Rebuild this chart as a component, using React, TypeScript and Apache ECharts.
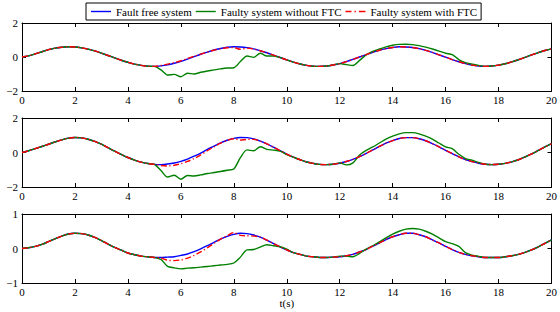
import React, { useEffect, useRef } from "react";
import * as echarts from "echarts";

// time samples (s)
const T = [
  0, 0.25, 0.5, 0.75, 1, 1.25, 1.5, 1.75, 2, 2.25, 2.5, 2.75, 3, 3.25, 3.5, 3.75, 4, 4.25, 4.5, 4.75,
  5, 5.25, 5.5, 5.75, 6, 6.25, 6.5, 6.75, 7, 7.25, 7.5, 7.75, 8, 8.25, 8.5, 8.75, 9, 9.25, 9.5, 9.75,
  10, 10.25, 10.5, 10.75, 11, 11.25, 11.5, 11.75, 12, 12.25, 12.5, 12.75, 13, 13.25, 13.5, 13.75, 14, 14.25, 14.5, 14.75,
  15, 15.25, 15.5, 15.75, 16, 16.25, 16.5, 16.75, 17, 17.25, 17.5, 17.75, 18, 18.25, 18.5, 18.75, 19, 19.25, 19.5, 19.75, 20,
];

// Panel 1
const free1 = [0, 0.07, 0.18, 0.31, 0.43, 0.52, 0.57, 0.60, 0.59, 0.54, 0.46, 0.36, 0.23, 0.09, -0.05, -0.19, -0.31, -0.42, -0.49, -0.54, -0.55, -0.52, -0.46, -0.37, -0.26, -0.12, 0.02, 0.16, 0.29, 0.41, 0.50, 0.57, 0.60, 0.59, 0.55, 0.48, 0.37, 0.25, 0.11, -0.03, -0.17, -0.30, -0.41, -0.49, -0.54, -0.55, -0.53, -0.47, -0.39, -0.27, -0.14, 0.00, 0.14, 0.28, 0.40, 0.49, 0.56, 0.60, 0.59, 0.56, 0.49, 0.39, 0.27, 0.13, -0.01, -0.15, -0.28, -0.39, -0.48, -0.53, -0.55, -0.53, -0.48, -0.40, -0.29, -0.16, -0.02, 0.12, 0.26, 0.38, 0.48];
const noFtc1 = [0, 0.07, 0.18, 0.31, 0.43, 0.52, 0.57, 0.60, 0.59, 0.54, 0.46, 0.36, 0.23, 0.09, -0.05, -0.19, -0.31, -0.42, -0.49, -0.54, -0.55, -0.76, -1.06, -1.02, -1.16, -0.96, -1.0, -0.9, -0.82, -0.76, -0.70, -0.65, -0.63, -0.27, 0.06, -0.02, 0.22, 0.06, 0.06, -0.04, -0.17, -0.30, -0.41, -0.49, -0.54, -0.55, -0.53, -0.47, -0.39, -0.45, -0.50, -0.2, 0.12, 0.33, 0.47, 0.60, 0.69, 0.74, 0.75, 0.73, 0.67, 0.58, 0.47, 0.35, 0.22, 0.14, -0.15, -0.33, -0.42, -0.50, -0.55, -0.53, -0.48, -0.40, -0.29, -0.16, -0.02, 0.12, 0.26, 0.38, 0.48];
const withFtc1 = [0, 0.07, 0.18, 0.31, 0.43, 0.52, 0.57, 0.60, 0.59, 0.54, 0.46, 0.36, 0.23, 0.09, -0.05, -0.19, -0.31, -0.42, -0.49, -0.54, -0.55, -0.50, -0.42, -0.33, -0.22, -0.09, 0.04, 0.17, 0.29, 0.40, 0.48, 0.54, 0.55, 0.45, 0.52, 0.47, 0.37, 0.25, 0.11, -0.03, -0.17, -0.30, -0.41, -0.49, -0.54, -0.55, -0.53, -0.47, -0.39, -0.27, -0.14, 0.00, 0.14, 0.28, 0.40, 0.49, 0.56, 0.60, 0.59, 0.56, 0.49, 0.39, 0.27, 0.13, -0.01, -0.15, -0.28, -0.39, -0.48, -0.53, -0.55, -0.53, -0.48, -0.40, -0.29, -0.16, -0.02, 0.12, 0.26, 0.38, 0.48];

// Panel 2
const free2 = [0, 0.10, 0.22, 0.35, 0.48, 0.61, 0.73, 0.83, 0.87, 0.85, 0.77, 0.64, 0.48, 0.28, 0.08, -0.11, -0.29, -0.44, -0.56, -0.64, -0.69, -0.70, -0.67, -0.61, -0.51, -0.38, -0.21, -0.03, 0.18, 0.37, 0.56, 0.71, 0.82, 0.87, 0.86, 0.79, 0.66, 0.50, 0.31, 0.11, -0.09, -0.27, -0.42, -0.55, -0.63, -0.69, -0.70, -0.68, -0.62, -0.52, -0.40, -0.24, -0.05, 0.15, 0.35, 0.54, 0.69, 0.81, 0.86, 0.86, 0.80, 0.68, 0.52, 0.33, 0.13, -0.06, -0.25, -0.41, -0.53, -0.62, -0.68, -0.70, -0.68, -0.63, -0.54, -0.42, -0.26, -0.08, 0.12, 0.32, 0.51];
const noFtc2 = [0, 0.10, 0.22, 0.35, 0.48, 0.61, 0.73, 0.83, 0.87, 0.85, 0.77, 0.64, 0.48, 0.28, 0.08, -0.11, -0.29, -0.44, -0.56, -0.64, -0.69, -1.05, -1.42, -1.32, -1.55, -1.33, -1.36, -1.30, -1.22, -1.16, -1.10, -1.03, -0.95, -0.30, 0.15, 0.10, 0.33, 0.18, 0.14, 0.08, -0.12, -0.27, -0.42, -0.55, -0.63, -0.69, -0.70, -0.68, -0.60, -0.72, -0.60, -0.15, 0.12, 0.32, 0.55, 0.78, 0.95, 1.08, 1.15, 1.15, 1.08, 0.95, 0.78, 0.55, 0.33, 0.22, -0.10, -0.35, -0.45, -0.58, -0.68, -0.70, -0.68, -0.63, -0.54, -0.42, -0.26, -0.08, 0.12, 0.32, 0.51];
const withFtc2 = [0, 0.10, 0.22, 0.35, 0.48, 0.61, 0.73, 0.83, 0.87, 0.85, 0.77, 0.64, 0.48, 0.28, 0.08, -0.11, -0.29, -0.44, -0.56, -0.64, -0.69, -0.75, -0.78, -0.74, -0.65, -0.52, -0.35, -0.14, 0.10, 0.33, 0.54, 0.70, 0.80, 0.72, 0.76, 0.76, 0.66, 0.50, 0.31, 0.11, -0.09, -0.27, -0.42, -0.55, -0.63, -0.69, -0.70, -0.68, -0.62, -0.52, -0.40, -0.24, -0.05, 0.15, 0.35, 0.54, 0.69, 0.81, 0.86, 0.86, 0.80, 0.68, 0.52, 0.33, 0.13, -0.06, -0.25, -0.41, -0.53, -0.62, -0.68, -0.70, -0.68, -0.63, -0.54, -0.42, -0.26, -0.08, 0.12, 0.32, 0.51];

// Panel 3
const free3 = [0, 0.02, 0.06, 0.12, 0.20, 0.28, 0.36, 0.42, 0.44, 0.43, 0.39, 0.32, 0.23, 0.13, 0.03, -0.05, -0.13, -0.18, -0.22, -0.24, -0.26, -0.26, -0.25, -0.24, -0.20, -0.16, -0.09, -0.01, 0.08, 0.18, 0.27, 0.35, 0.41, 0.44, 0.43, 0.39, 0.33, 0.24, 0.14, 0.05, -0.04, -0.12, -0.17, -0.22, -0.24, -0.26, -0.26, -0.25, -0.24, -0.21, -0.17, -0.10, -0.03, 0.07, 0.16, 0.26, 0.34, 0.40, 0.44, 0.44, 0.40, 0.34, 0.25, 0.16, 0.06, -0.03, -0.11, -0.17, -0.21, -0.24, -0.26, -0.26, -0.26, -0.24, -0.21, -0.17, -0.11, -0.04, 0.05, 0.15, 0.25];
const noFtc3 = [0, 0.02, 0.06, 0.12, 0.20, 0.28, 0.36, 0.42, 0.44, 0.43, 0.39, 0.32, 0.23, 0.13, 0.03, -0.05, -0.13, -0.18, -0.22, -0.24, -0.26, -0.32, -0.52, -0.56, -0.59, -0.57, -0.56, -0.54, -0.52, -0.50, -0.48, -0.46, -0.42, -0.25, -0.04, -0.03, 0.04, 0.11, 0.08, 0.05, -0.02, -0.12, -0.17, -0.22, -0.24, -0.26, -0.26, -0.25, -0.22, -0.22, -0.24, -0.14, -0.02, 0.08, 0.19, 0.31, 0.42, 0.50, 0.56, 0.58, 0.56, 0.50, 0.42, 0.31, 0.20, 0.14, 0.06, -0.12, -0.19, -0.23, -0.26, -0.26, -0.26, -0.24, -0.21, -0.17, -0.11, -0.04, 0.05, 0.15, 0.25];
const withFtc3 = [0, 0.02, 0.06, 0.12, 0.20, 0.28, 0.36, 0.42, 0.44, 0.43, 0.39, 0.32, 0.23, 0.13, 0.03, -0.05, -0.13, -0.18, -0.22, -0.24, -0.26, -0.28, -0.34, -0.35, -0.33, -0.28, -0.20, -0.10, 0.02, 0.15, 0.27, 0.37, 0.46, 0.38, 0.37, 0.36, 0.33, 0.24, 0.14, 0.05, -0.04, -0.12, -0.17, -0.22, -0.24, -0.26, -0.26, -0.25, -0.24, -0.21, -0.17, -0.10, -0.03, 0.07, 0.16, 0.26, 0.34, 0.40, 0.44, 0.44, 0.40, 0.34, 0.25, 0.16, 0.06, -0.03, -0.11, -0.17, -0.21, -0.24, -0.26, -0.26, -0.26, -0.24, -0.21, -0.17, -0.11, -0.04, 0.05, 0.15, 0.25];

const SERIES_NAMES = ["Fault free system", "Faulty system without FTC", "Faulty system with FTC"];
const Y_RANGES = [
  [-2, 2, 2],
  [-2, 2, 2],
  [-1, 1, 1],
];
const X_RANGE = [0, 20, 2];
const X_NAME = "t(s)";

const PANELS = [
  [free1, noFtc1, withFtc1],
  [free2, noFtc2, withFtc2],
  [free3, noFtc3, withFtc3],
];

const FONT = "'Liberation Serif', 'Times New Roman', serif";
const COLORS = ["#0000ff", "#008000", "#ff0000"];
const ICON_SOLID = "path://M0,0H20V1.4H0Z";
const ICON_DASHDOT = "path://M0,0H6V1.4H0Z M9,0H10.4V1.4H9Z M13.4,0H20V1.4H13.4Z";

export default function App() {
  const ref = useRef<HTMLDivElement>(null);
  useEffect(() => {
    const chart = echarts.init(ref.current!, null, { renderer: "svg" });
    const gridPos = [
      { top: 23, height: 68 },
      { top: 118, height: 69 },
      { top: 214, height: 69 },
    ];
    const grid = gridPos.map((g) => ({ left: 22, width: 533, top: g.top, height: g.height }));
    const axisLine = { show: true, onZero: false, lineStyle: { color: "#000", width: 1 } };
    const axisTick = { show: true, inside: true, length: 4, lineStyle: { color: "#000", width: 1 } };
    const labelStyle = { color: "#000", fontFamily: FONT, fontSize: 11 };
    const fmt = (v: number) => (v < 0 ? "\u2212" + Math.abs(v) : String(v));

    const xAxis: any[] = [];
    const yAxis: any[] = [];
    const series: any[] = [];
    PANELS.forEach((panel, p) => {
      xAxis.push({
        type: "value", gridIndex: p, min: X_RANGE[0], max: X_RANGE[1], interval: X_RANGE[2],
        position: "bottom", axisLine, axisTick, splitLine: { show: false },
        axisLabel: { ...labelStyle, margin: 3 },
        ...(p === 2 ? { name: X_NAME, nameLocation: "middle", nameGap: 14, nameTextStyle: { ...labelStyle } } : {}),
      });
      xAxis.push({
        type: "value", gridIndex: p, min: X_RANGE[0], max: X_RANGE[1], interval: X_RANGE[2],
        position: "top", axisLine, axisTick, splitLine: { show: false }, axisLabel: { show: false },
      });
      const [ymin, ymax, yint] = Y_RANGES[p];
      yAxis.push({
        type: "value", gridIndex: p, min: ymin, max: ymax, interval: yint, position: "left",
        axisLine, axisTick, splitLine: { show: false },
        axisLabel: { ...labelStyle, margin: 4, formatter: fmt },
      });
      yAxis.push({
        type: "value", gridIndex: p, min: ymin, max: ymax, interval: yint, position: "right",
        axisLine, axisTick, splitLine: { show: false }, axisLabel: { show: false },
      });
      panel.forEach((vals, k) => {
        series.push({
          name: SERIES_NAMES[k],
          type: "line",
          xAxisIndex: p * 2,
          yAxisIndex: p * 2,
          data: T.map((t, i) => [t, vals[i]]),
          symbol: "none",
          smooth: 0.3,
          z: 2 + k,
          lineStyle: {
            color: COLORS[k],
            width: 1.4,
            type: k === 2 ? [6, 2.5, 1.2, 2.5] : "solid",
          },
          itemStyle: { color: COLORS[k] },
        });
      });
    });

    chart.setOption({
      animation: false,
      backgroundColor: "#fff",
      grid,
      xAxis,
      yAxis,
      series,
      legend: {
        data: SERIES_NAMES.map((name, k) => ({
          name,
          icon: k === 2 ? ICON_DASHDOT : ICON_SOLID,
          itemStyle: { color: COLORS[k], borderWidth: 0 },
        })),
        left: 86,
        top: 3,
        padding: [3, 4, 3, 5],
        itemGap: 4,
        itemWidth: 20,
        itemHeight: 10,
        borderColor: "#000",
        borderWidth: 1,
        backgroundColor: "#fff",
        textStyle: { color: "#000", fontFamily: FONT, fontSize: 11 },
      },
    });
    return () => chart.dispose();
  }, []);
  return <div ref={ref} style={{ position: "fixed", left: 0, top: 0, width: 560, height: 312 }} />;
}
